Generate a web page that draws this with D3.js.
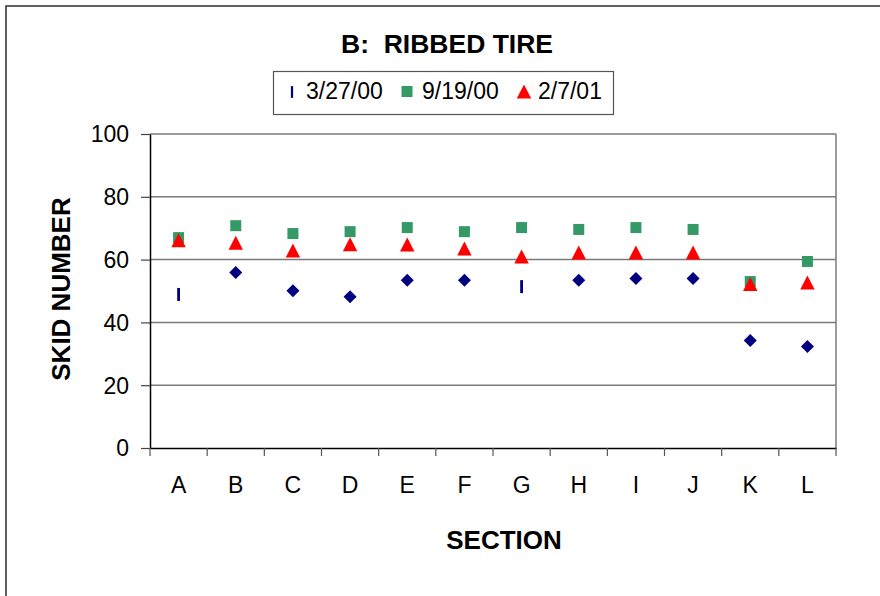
<!DOCTYPE html>
<html>
<head>
<meta charset="utf-8">
<script src="https://cdn.jsdelivr.net/npm/d3@7"></script>
<style>
  html, body { margin: 0; padding: 0; background: #fff; }
  svg { display: block; }
  text { font-family: "Liberation Sans", Arial, sans-serif; fill: #000; white-space: pre; }
</style>
</head>
<body>
<svg id="chart" width="880" height="596"></svg>
<script>
// Test sections along the road
const sections = ["A", "B", "C", "D", "E", "F", "G", "H", "I", "J", "K", "L"];

// Skid numbers per test date
const seriesNames = ["3/27/00", "9/19/00", "2/7/01"];
const skid_032700 = [48.9, 55.9, 50.1, 48.2, 53.4, 53.4, 51.4, 53.4, 54.0, 54.0, 34.2, 32.3];
const skid_091900 = [67.0, 70.8, 68.3, 68.9, 70.2, 68.9, 70.2, 69.6, 70.2, 69.6, 53.0, 59.4];
const skid_020701 = [66.2, 65.4, 62.9, 64.9, 64.8, 63.5, 61.0, 62.3, 62.3, 62.3, 52.2, 52.7];

// The first date uses a bar marker at two sections, a diamond elsewhere
const marker_032700 = ["bar", "diamond", "diamond", "diamond", "diamond", "diamond",
                       "bar", "diamond", "diamond", "diamond", "diamond", "diamond"];

const yTicks = [0, 20, 40, 60, 80, 100];

const svg = d3.select("#chart");
const W = 880, H = 596;
const plot = { left: 150, right: 836, top: 134, bottom: 448 };

// outer chart frame
svg.append("rect")
  .attr("x", 6).attr("y", 6).attr("width", W + 20).attr("height", H + 20)
  .attr("fill", "#fff").attr("stroke", "#2b2b2b").attr("stroke-width", 1.5);

const x = d3.scaleBand().domain(sections).range([plot.left, plot.right]).paddingInner(0).paddingOuter(0);
const y = d3.scaleLinear().domain([0, 100]).range([plot.bottom, plot.top]);

// horizontal gridlines
svg.append("g")
  .selectAll("line")
  .data(yTicks.filter(d => d > 0))
  .join("line")
  .attr("x1", plot.left).attr("x2", plot.right)
  .attr("y1", d => y(d)).attr("y2", d => y(d))
  .attr("stroke", "#7a7a7a").attr("stroke-width", 1.5);

// right border of plot area
svg.append("line")
  .attr("x1", plot.right).attr("x2", plot.right)
  .attr("y1", plot.top).attr("y2", plot.bottom)
  .attr("stroke", "#7a7a7a").attr("stroke-width", 1.5);

// y axis
const yAxis = svg.append("g")
  .attr("transform", `translate(${plot.left},0)`)
  .call(d3.axisLeft(y).tickValues(yTicks).tickSize(9).tickSizeOuter(0).tickPadding(12));
yAxis.select(".domain").attr("stroke", "#000").attr("stroke-width", 1.5);
yAxis.selectAll(".tick line").attr("stroke", "#444").attr("stroke-width", 1.2);
yAxis.selectAll(".tick text")
  .style("font-size", "23px")
  .attr("font-family", null)
  .attr("dy", "0.34em");

// x axis: labels centred in each band, tick marks at band edges
const xAxis = svg.append("g")
  .attr("transform", `translate(0,${plot.bottom})`)
  .call(d3.axisBottom(x).tickSize(0).tickPadding(29));
xAxis.select(".domain").attr("stroke", "#000").attr("stroke-width", 1.5);
xAxis.selectAll(".tick text")
  .style("font-size", "23px")
  .attr("font-family", null);

const edges = sections.map(s => x(s)).concat([x(sections[sections.length - 1]) + x.bandwidth()]);
svg.append("g")
  .selectAll("line")
  .data(edges)
  .join("line")
  .attr("x1", d => d).attr("x2", d => d)
  .attr("y1", plot.bottom).attr("y2", plot.bottom + 8)
  .attr("stroke", "#555").attr("stroke-width", 1.2);

// marker shapes, centred on their bounding box
const shapes = {
  bar: "M-1.4,-6.5H1.4V6.5H-1.4Z",
  diamond: "M0,-6.5L6.5,0L0,6.5L-6.5,0Z",
  square: "M-5.5,-5.5H5.5V5.5H-5.5Z",
  triangle: "M0,-7L7.2,7H-7.2Z"
};
const colors = ["#000080", "#339966", "#ff0000"];

const cx = s => x(s) + x.bandwidth() / 2;

svg.append("g").selectAll("path")
  .data(sections.map((s, i) => ({ s, v: skid_091900[i] })))
  .join("path")
  .attr("d", shapes.square)
  .attr("transform", d => `translate(${cx(d.s)},${y(d.v)})`)
  .attr("fill", colors[1]);

svg.append("g").selectAll("path")
  .data(sections.map((s, i) => ({ s, v: skid_020701[i] })))
  .join("path")
  .attr("d", shapes.triangle)
  .attr("transform", d => `translate(${cx(d.s)},${y(d.v)})`)
  .attr("fill", colors[2]);

svg.append("g").selectAll("path")
  .data(sections.map((s, i) => ({ s, v: skid_032700[i], m: marker_032700[i] })))
  .join("path")
  .attr("d", d => shapes[d.m])
  .attr("transform", d => `translate(${cx(d.s)},${y(d.v)})`)
  .attr("fill", colors[0]);

// title
svg.append("text")
  .attr("x", 447).attr("y", 53)
  .attr("text-anchor", "middle")
  .attr("xml:space", "preserve")
  .style("font-size", "26.5px").style("font-weight", "bold")
  .text("B:  RIBBED TIRE");

// axis titles
svg.append("text")
  .attr("x", 504).attr("y", 549)
  .attr("text-anchor", "middle")
  .style("font-size", "26px").style("font-weight", "bold")
  .text("SECTION");

svg.append("text")
  .attr("transform", "translate(70,289) rotate(-90)")
  .attr("text-anchor", "middle")
  .style("font-size", "26px").style("font-weight", "bold")
  .text("SKID NUMBER");

// legend
const legend = svg.append("g");
legend.append("rect")
  .attr("x", 273.5).attr("y", 71.5).attr("width", 340).attr("height", 43)
  .attr("fill", "#fff").attr("stroke", "#555").attr("stroke-width", 1.2);

const legendItems = [
  { name: seriesNames[0], shape: "bar", mx: 292, tx: 306 },
  { name: seriesNames[1], shape: "square", mx: 407, tx: 422 },
  { name: seriesNames[2], shape: "triangle", mx: 524, tx: 538 }
];
legendItems.forEach((it, i) => {
  legend.append("path")
    .attr("d", shapes[it.shape])
    .attr("transform", `translate(${it.mx},${it.shape === "bar" ? 92 : 91.5})${it.shape === "bar" ? " scale(0.8,0.9)" : ""}`)
    .attr("fill", colors[i]);
  legend.append("text")
    .attr("x", it.tx).attr("y", 98.5)
    .style("font-size", "23px")
    .text(it.name);
});
</script>
</body>
</html>
